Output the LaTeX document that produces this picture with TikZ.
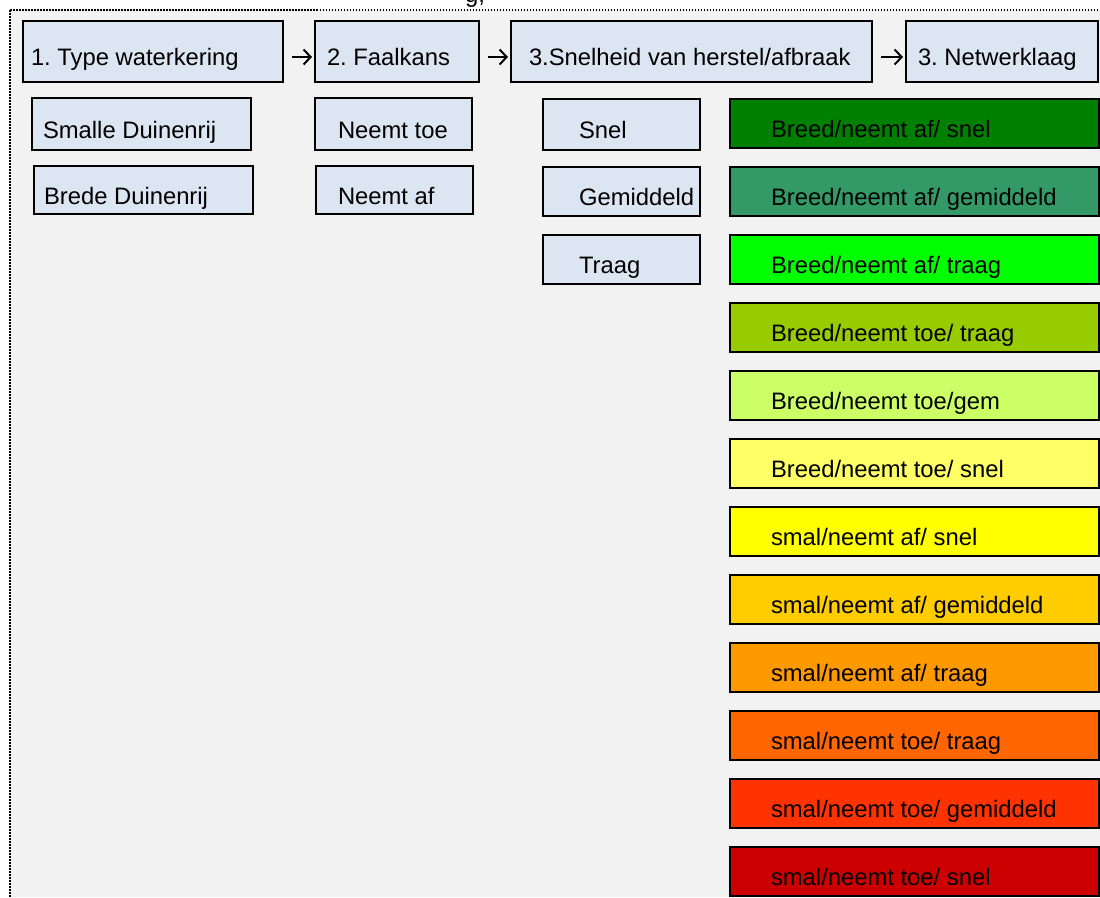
\documentclass[tikz,border=0pt]{standalone}
\usepackage{fontspec}
\setmainfont{Liberation Sans}
\usetikzlibrary{arrows.meta}
\frenchspacing

\definecolor{paper}{HTML}{F2F2F2}
\definecolor{cellblue}{HTML}{DCE6F2}
\definecolor{lvA}{HTML}{008000}
\definecolor{lvB}{HTML}{339966}
\definecolor{lvC}{HTML}{00FF00}
\definecolor{lvD}{HTML}{99CC00}
\definecolor{lvE}{HTML}{CCFF66}
\definecolor{lvF}{HTML}{FFFF66}
\definecolor{lvG}{HTML}{FFFF00}
\definecolor{lvH}{HTML}{FFCC00}
\definecolor{lvI}{HTML}{FF9900}
\definecolor{lvJ}{HTML}{FF6600}
\definecolor{lvK}{HTML}{FF3300}
\definecolor{lvL}{HTML}{CC0000}

\tikzset{
  % box drawn from its top-left corner, text on a fixed baseline
  base/.style={draw=black, line width=1.8pt, anchor=north west, outer sep=0pt,
               inner ysep=0pt, text height=28pt, text depth=0pt},
  % cell={width}{left inset}: fixed width, text flush left at the inset
  cell/.code 2 args={%
    \pgfmathsetmacro\cellw{#1}%
    \pgfmathsetmacro\celltw{#1-2*#2}%
    \edef\cellnext{\noexpand\pgfkeysalso{minimum width=\cellw pt, inner xsep=#2pt,
      execute at begin node={\noexpand\hbox to \celltw pt\noexpand\bgroup},
      execute at end node={\noexpand\hss\noexpand\egroup}}}%
    \cellnext},
  stage/.style={base, fill=cellblue, minimum height=61pt},
  option/.style={base, fill=cellblue},
  level/.style={base, fill=#1, minimum height=49pt, cell={369}{41}},
  step arrow/.style={line width=2pt, -{Straight Barb[length=7pt,width=15pt,line width=2pt]}},
  frame line/.style={line width=2pt, dash pattern=on 1.6pt off 1.4pt},
}

\begin{document}
\begin{tikzpicture}[x=1pt, y=-1pt, font=\fontsize{23.8}{28}\selectfont]
\useasboundingbox (0,0) rectangle (1100,897);
\clip (0,0) rectangle (1100,897);

% sheet and its dotted frame
\fill[paper] (9,10) rectangle (1100,897);
\draw[frame line] (9.5,897) -- (9.5,10) -- (1100,10);

% tail of the caption line above the frame
\node[anchor=base west, inner sep=0pt] (caption) at (465,2) {g,};

% stages
\node[stage, cell={260}{8}]  (h1) at (23,21)  {1. Type waterkering};
\node[stage, cell={164}{12}] (h2) at (315,21) {2. Faalkans};
\node[stage, cell={361}{18}] (h3) at (511,21) {3.Snelheid van herstel/afbraak};
\node[stage, cell={192}{12}] (h4) at (906,21) {3. Netwerklaag};

\draw[step arrow] ([xshift=9pt,yshift=-5.5pt]h1.east) -- ([xshift=-3pt,yshift=-5.5pt]h2.west);
\draw[step arrow] ([xshift=9pt,yshift=-5.5pt]h2.east) -- ([xshift=-3pt,yshift=-5.5pt]h3.west);
\draw[step arrow] ([xshift=9pt,yshift=-5.5pt]h3.east) -- ([xshift=-3pt,yshift=-5.5pt]h4.west);

% options per stage
\node[option, minimum height=52pt, cell={219}{11}] (typ1) at (32,98)  {Smalle Duinenrij};
\node[option, minimum height=48pt, cell={219}{10}] (typ2) at (34,166) {Brede Duinenrij};

\node[option, minimum height=52pt, cell={157}{23}] (fk1) at (315,98)  {Neemt toe};
\node[option, minimum height=48pt, cell={157}{22}] (fk2) at (316,166) {Neemt af};

\node[option, minimum height=51pt, cell={157}{36}] (sp1) at (543,99)  {Snel};
\node[option, minimum height=49pt, cell={157}{36}] (sp2) at (543,167) {Gemiddeld};
\node[option, minimum height=49pt, cell={157}{36}] (sp3) at (543,235) {Traag};

% network classes
\node[level=lvA] (nk1)  at (730,99)  {Breed/neemt af/ snel};
\node[level=lvB] (nk2)  at (730,167) {Breed/neemt af/ gemiddeld};
\node[level=lvC] (nk3)  at (730,235) {Breed/neemt af/ traag};
\node[level=lvD] (nk4)  at (730,303) {Breed/neemt toe/ traag};
\node[level=lvE] (nk5)  at (730,371) {Breed/neemt toe/gem};
\node[level=lvF] (nk6)  at (730,439) {Breed/neemt toe/ snel};
\node[level=lvG] (nk7)  at (730,507) {smal/neemt af/ snel};
\node[level=lvH] (nk8)  at (730,575) {smal/neemt af/ gemiddeld};
\node[level=lvI] (nk9)  at (730,643) {smal/neemt af/ traag};
\node[level=lvJ] (nk10) at (730,711) {smal/neemt toe/ traag};
\node[level=lvK] (nk11) at (730,779) {smal/neemt toe/ gemiddeld};
\node[level=lvL] (nk12) at (730,847) {smal/neemt toe/ snel};
\end{tikzpicture}
\end{document}
